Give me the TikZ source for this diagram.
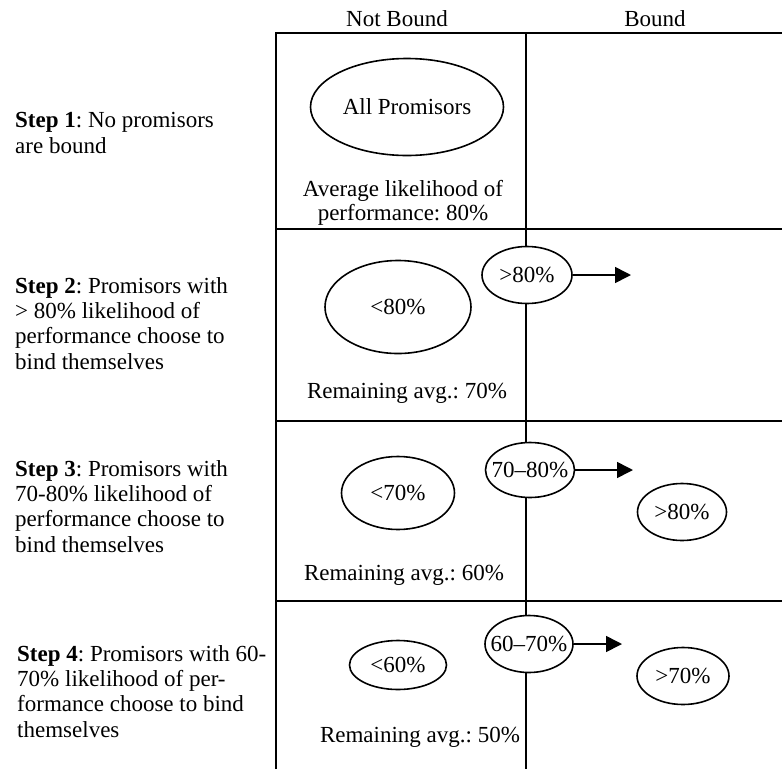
\documentclass[tikz,border=0pt]{standalone}
\usepackage{fontspec}
\setmainfont{Liberation Serif}
\usetikzlibrary{shapes.geometric,arrows.meta}

\tikzset{
  grid/.style={line width=1.7pt},
  oval/.style={draw, ellipse, fill=white, line width=1.6pt, inner sep=0pt},
  steptext/.style={anchor=base west, align=left, inner sep=0pt,
    font=\fontsize{23}{25.3}\selectfont},
  celltext/.style={anchor=base, align=center, inner sep=0pt,
    font=\fontsize{23}{23.3}\selectfont},
  bindarrow/.style={line width=1.6pt, -{Triangle[length=16pt,width=16pt]}}
}

\begin{document}
\frenchspacing
\begin{tikzpicture}[x=1pt, y=-1pt, font=\fontsize{23}{25.3}\selectfont]
        \useasboundingbox (0,0) rectangle (782,769);
        % outline
            \draw [grid, line width=2.2pt] (276,769) -- (276,33) -- (782,33);
            \draw [grid] (526,33) -- (526,769);
            \foreach \y in {229,421,601}
                \draw [grid] (276,\y) -- (782,\y);
        % column heads
            \node [celltext] (notbound) at (397,26) {Not Bound};
            \node [celltext] (bound) at (655,26) {Bound};
        % steps (anchored at the last line)
            \node [steptext] (step1) at (15,153) {\textbf{Step 1}: No promisors\\are bound};
            \node [steptext] (step2) at (15,369) {\textbf{Step 2}: Promisors with\\> 80\% likelihood of\\performance choose to\\bind themselves};
            \node [steptext] (step3) at (15,552) {\textbf{Step 3}: Promisors with\\70-80\% likelihood of\\performance choose to\\bind themselves};
            \node [steptext] (step4) at (17,737) {\textbf{Step 4}: Promisors with 60-\\70\% likelihood of per-\\formance choose to bind\\themselves};
        % step 1
            \node [oval, minimum width=193pt, minimum height=97pt, label=center:{All Promisors}] (all) at (407,107) {};
            \node [celltext] (avg1) at (403,220) {Average likelihood of\\performance: 80\%};
        % step 2
            \node [oval, minimum width=146pt, minimum height=93pt, label=center:{<80\%}] (low2) at (398,307) {};
            \node [oval, minimum width=90pt, minimum height=57pt, label=center:{>80\%}] (mid2) at (527,275) {};
            \coordinate (tip2) at (631,275);
            \draw [bindarrow] (mid2) -- (tip2);
            \node [celltext] (avg2) at (407,398) {Remaining avg.: 70\%};
        % step 3
            \node [oval, minimum width=113pt, minimum height=73pt, label=center:{<70\%}] (low3) at (398,493) {};
            \node [oval, minimum width=89pt, minimum height=55pt, label=center:{70--80\%}] (mid3) at (530,470) {};
            \node [oval, minimum width=89pt, minimum height=57pt, label=center:{>80\%}] (high3) at (682,512) {};
            \coordinate (tip3) at (633,470);
            \draw [bindarrow] (mid3) -- (tip3);
            \node [celltext] (avg3) at (404,580) {Remaining avg.: 60\%};
        % step 4
            \node [oval, minimum width=97pt, minimum height=49pt, label=center:{<60\%}] (low4) at (398,665) {};
            \node [oval, minimum width=88pt, minimum height=57pt, label=center:{60--70\%}] (mid4) at (529,644) {};
            \node [oval, minimum width=92pt, minimum height=57pt, label=center:{>70\%}] (high4) at (683,676) {};
            \coordinate (tip4) at (622,644);
            \draw [bindarrow] (mid4) -- (tip4);
            \node [celltext] (avg4) at (420,742) {Remaining avg.: 50\%};
\end{tikzpicture}
\end{document}
